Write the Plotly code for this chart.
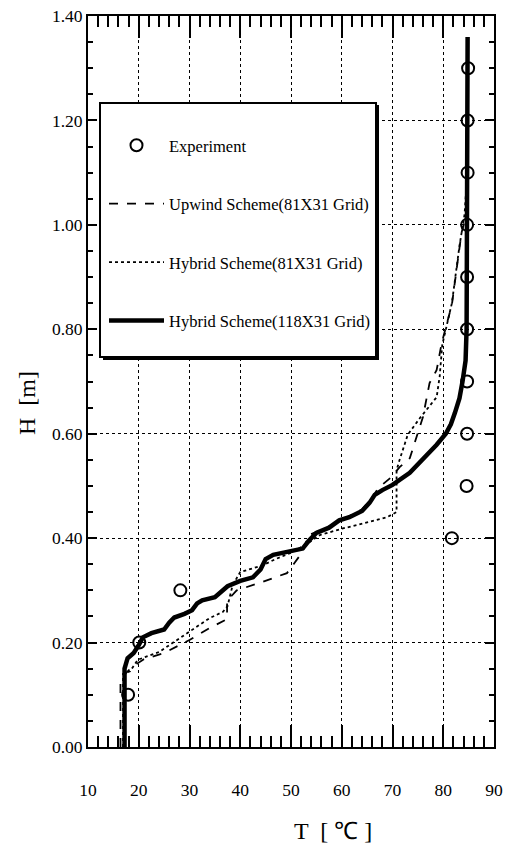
import plotly.graph_objects as go

# ---------------- data ----------------
exp_T = [17.9, 20.1, 28.2, 81.7, 84.6, 84.7, 84.7, 84.7, 84.7, 84.7, 84.8, 84.8, 84.9]
exp_H = [0.10, 0.20, 0.30, 0.40, 0.50, 0.60, 0.70, 0.80, 0.90, 1.00, 1.10, 1.20, 1.30]

upwind_T = [16.4, 16.4, 18.5, 21.0, 25.0, 30.0, 34.0, 37.4, 37.4, 39.3, 44.0, 49.2, 50.5,
            52.3, 53.5, 57.0, 60.0, 64.0, 66.0, 67.2, 69.8, 71.4, 73.4, 74.7, 76.0, 77.3,
            78.7, 79.7, 81.7, 82.8, 83.6, 84.6, 84.8]
upwind_H = [0.00, 0.13, 0.152, 0.168, 0.180, 0.205, 0.228, 0.245, 0.280, 0.300, 0.315, 0.333, 0.350,
            0.374, 0.406, 0.420, 0.435, 0.455, 0.478, 0.496, 0.517, 0.536, 0.553, 0.594, 0.632, 0.697,
            0.722, 0.774, 0.847, 0.927, 0.985, 1.020, 1.080]

hyb81_T = [16.9, 16.9, 18.3, 19.8, 24.0, 29.5, 32.0, 34.0, 36.6, 37.5, 38.5, 40.0, 44.4, 47.0,
           50.0, 53.0, 55.7, 60.0, 65.0, 68.9, 70.8, 70.8, 71.4, 73.0, 75.4, 77.0, 78.7, 79.3,
           79.8, 81.7, 83.2, 84.2, 84.6]
hyb81_H = [0.00, 0.14, 0.145, 0.167, 0.182, 0.218, 0.234, 0.247, 0.259, 0.270, 0.310, 0.335, 0.348, 0.360,
           0.372, 0.388, 0.406, 0.418, 0.430, 0.440, 0.450, 0.530, 0.550, 0.598, 0.630, 0.650, 0.670, 0.710,
           0.770, 0.850, 0.960, 1.020, 1.080]

hyb118_T = [17.2, 17.2, 17.8, 19.0, 20.0, 20.8, 22.5, 25.0, 26.0, 27.0, 29.0, 30.5, 31.5, 32.5,
            35.0, 36.5, 37.5, 40.0, 42.5, 44.0, 45.0, 46.5, 50.0, 52.3, 53.5, 55.0, 57.5, 59.5,
            61.5, 64.0, 65.5, 66.5, 68.0, 70.0, 73.4, 76.0, 78.7, 80.5, 81.5, 82.3, 83.2, 83.8,
            84.4, 84.6, 84.6, 84.7, 84.8]
hyb118_H = [0.00, 0.15, 0.170, 0.180, 0.195, 0.210, 0.218, 0.225, 0.238, 0.248, 0.255, 0.262, 0.275, 0.281,
            0.287, 0.298, 0.308, 0.318, 0.325, 0.340, 0.360, 0.368, 0.374, 0.380, 0.395, 0.410, 0.420, 0.434,
            0.440, 0.452, 0.468, 0.483, 0.492, 0.502, 0.525, 0.550, 0.579, 0.600, 0.618, 0.640, 0.668, 0.700,
            0.740, 0.800, 1.000, 1.200, 1.360]

x_ticks = [10, 20, 30, 40, 50, 60, 70, 80, 90]
y_ticks = [0.0, 0.2, 0.4, 0.6, 0.8, 1.0, 1.2, 1.4]

FONT = "Liberation Serif"

# ---------------- geometry ----------------
W, H = 510, 848
L, R, T, B = 88, 494, 16, 747          # plot area in page px
def sx(x):
    return (x - L) / (R - L)
def sy(y):
    return (B - y) / (B - T)

fig = go.Figure()

fig.add_trace(go.Scatter(x=exp_T, y=exp_H, mode="markers", name="Experiment",
                         legendgroup="a",
                         marker=dict(symbol="circle-open", size=12, color="black",
                                     line=dict(width=2, color="black"))))
fig.add_trace(go.Scatter(x=upwind_T, y=upwind_H, mode="lines", name="Upwind Scheme(81X31 Grid)",
                         legendgroup="b",
                         line=dict(color="black", width=1.8, dash="dash")))
fig.add_trace(go.Scatter(x=hyb81_T, y=hyb81_H, mode="lines", name="Hybrid Scheme(81X31 Grid)",
                         legendgroup="c",
                         line=dict(color="black", width=1.8, dash="dot")))
fig.add_trace(go.Scatter(x=hyb118_T, y=hyb118_H, mode="lines", name="Hybrid Scheme(118X31 Grid)",
                         legendgroup="d",
                         line=dict(color="black", width=4.5)))

axis_common = dict(
    showline=True, linecolor="black", linewidth=2, mirror="allticks",
    ticks="inside", tickcolor="black", tickwidth=1.5,
    showgrid=True, gridcolor="black", gridwidth=1, griddash="dot",
    zeroline=False, automargin=False, ticklabeloverflow="allow",
    tickfont=dict(family=FONT, size=17.5, color="black"),
)

fig.update_xaxes(range=[10, 90], tickvals=x_ticks, ticktext=[str(v) for v in x_ticks],
                 ticklen=22, ticklabelstandoff=26,
                 minor=dict(dtick=2, ticklen=11, ticks="inside", tickcolor="black",
                            tickwidth=1.5, showgrid=False),
                 **axis_common)
fig.update_yaxes(range=[0, 1.4], tickvals=y_ticks, ticktext=[f"{v:.2f}" for v in y_ticks],
                 ticklen=9, ticklabelstandoff=0,
                 minor=dict(dtick=0.05, ticklen=5, ticks="inside", tickcolor="black",
                            tickwidth=1.5, showgrid=False),
                 **axis_common)

# legend box with shadow
lx0, lx1, ly0, ly1 = 100, 376, 103, 357
fig.add_shape(type="rect", xref="paper", yref="paper", layer="above",
              x0=sx(lx0 + 3), x1=sx(lx1 + 3), y0=sy(ly1 + 3), y1=sy(ly0 + 2),
              fillcolor="black", line=dict(width=0))
fig.add_shape(type="rect", xref="paper", yref="paper", layer="above",
              x0=sx(lx0), x1=sx(lx1), y0=sy(ly1), y1=sy(ly0),
              fillcolor="white", line=dict(color="black", width=2))

fig.add_annotation(text="H  [m]", xref="paper", yref="paper", x=sx(27), y=sy(403),
                   xanchor="center", yanchor="middle",
                   textangle=-90, showarrow=False,
                   font=dict(family=FONT, size=24, color="black"))
fig.add_annotation(text="T  [ ℃ ]", xref="paper", yref="paper", x=sx(333), y=sy(831),
                   xanchor="center", yanchor="middle",
                   showarrow=False, font=dict(family=FONT, size=24, color="black"))

fig.update_layout(
    width=W, height=H,
    margin=dict(l=L, r=W - R, t=T, b=H - B, pad=0),
    plot_bgcolor="white", paper_bgcolor="white",
    showlegend=True,
    legend=dict(x=sx(104), y=sy(128), xanchor="left", yanchor="top",
                bgcolor="rgba(0,0,0,0)", borderwidth=0,
                font=dict(family=FONT, size=16.5, color="black"),
                itemwidth=55, tracegroupgap=34, traceorder="grouped"),
)

# remove the default 8 px page margin so the figure fills the window exactly
fig.write_html("out.html", config={"displayModeBar": False},
               post_script="document.body.style.margin='0';")
